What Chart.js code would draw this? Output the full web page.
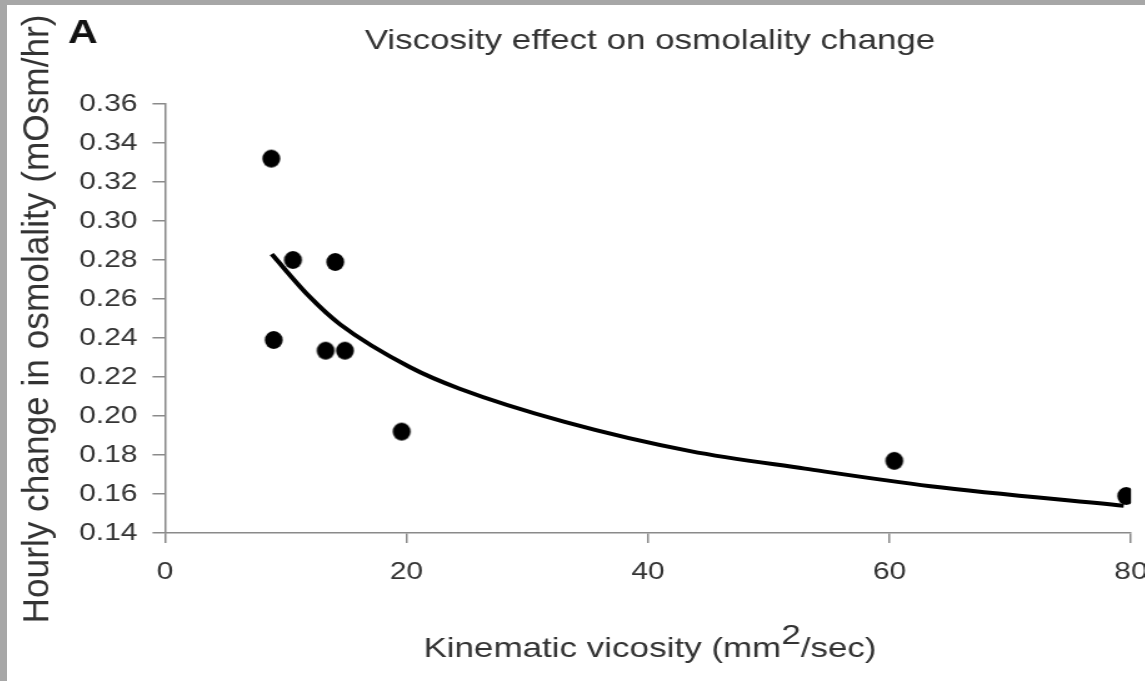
<!DOCTYPE html>
<html>
<head>
<meta charset="utf-8">
<script src="https://cdn.jsdelivr.net/npm/chart.js@4.4.0/dist/chart.umd.min.js"></script>
<style>
    html, body {
        margin: 0;
        padding: 0;
        background: #a7a7a7;
        width: 1145px;
        height: 681px;
        overflow: hidden;
    }
    #frame {
        position: absolute;
        left: 7px;
        top: 5px;
        width: 1138px;
        height: 676px;
        background: #ffffff;
        overflow: hidden;
    }
    #viscosity-chart {
        position: absolute;
        left: 0;
        top: 0;
        transform: scaleX(1.25);
        transform-origin: 0 0;
        filter: blur(0.5px);
    }
</style>
</head>
<body>
<div id="frame">
    <canvas id="viscosity-chart" width="910" height="676" style="width:910px;height:676px;"></canvas>
</div>
<script>
// measured points: kinematic viscosity (mm2/sec) vs hourly change (mOsm/hr)
const viscosity = [8.8, 9.0, 10.6, 14.1, 13.3, 14.9, 19.6, 60.4, 79.6];
const osmoChange = [0.332, 0.239, 0.280, 0.279, 0.2335, 0.2335, 0.192, 0.177, 0.159];

// trend line
const trendX = [8.84, 12.0, 14.5, 20.3, 24.4, 33.1, 43.5, 53.0, 63.4, 79.4];
const trendY = [0.283, 0.261, 0.247, 0.225, 0.214, 0.197, 0.182, 0.173, 0.164, 0.154];

const xTicks = [0, 20, 40, 60, 80];
const yTicks = [0.14, 0.16, 0.18, 0.20, 0.22, 0.24, 0.26, 0.28, 0.30, 0.32, 0.34, 0.36];

const chartTitle = 'Viscosity effect on osmolality change';
const panelLabel = 'A';
const yTitle = 'Hourly change in osmolality (mOsm/hr)';

const fontFamily = "'Liberation Sans', Arial, Helvetica, sans-serif";
const axisColor = '#8a8a8a';
const textColor = '#333333';
const stretch = 1.25;

let chart = null;

function toPoints(xs, ys) {
    let points = [];
    for (let i = 0; i < xs.length; i++) {
        points.push({x: xs[i], y: ys[i]});
    }
    return points;
}

// round dot that survives the horizontal stretch of the canvas
function makeDot(diameter) {
    const w = Math.ceil(diameter / stretch) + 2;
    const h = Math.ceil(diameter) + 2;
    const dot = document.createElement('canvas');
    dot.width = w;
    dot.height = h;
    const dctx = dot.getContext('2d');
    dctx.fillStyle = '#000000';
    dctx.beginPath();
    dctx.ellipse(w / 2, h / 2, diameter / stretch / 2, diameter / 2, 0, 0, Math.PI * 2);
    dctx.fill();
    return dot;
}

const textPlugin = {
    id: 'chartTexts',
    afterDraw(c) {
        const ctx = c.ctx;
        ctx.save();
        ctx.fillStyle = textColor;
        ctx.textBaseline = 'alphabetic';

        // title
        ctx.font = '28px ' + fontFamily;
        ctx.textAlign = 'center';
        ctx.fillText(chartTitle, 514.4, 44);

        // panel letter
        ctx.fillStyle = '#111111';
        ctx.font = 'bold 33px ' + fontFamily;
        ctx.textAlign = 'left';
        ctx.fillText(panelLabel, 48.8, 38);
        ctx.fillStyle = textColor;

        // x title with superscript
        ctx.font = '28px ' + fontFamily;
        const partA = 'Kinematic vicosity (mm';
        const partB = '2';
        const partC = '/sec)';
        const wA = ctx.measureText(partA).width;
        const wB = ctx.measureText(partB).width;
        const wC = ctx.measureText(partC).width;
        let x = 514.4 - (wA + wB + wC) / 2;
        ctx.textAlign = 'left';
        ctx.fillText(partA, x, 652);
        x += wA;
        ctx.fillText(partB, x, 639);
        x += wB;
        ctx.fillText(partC, x, 652);

        // y title, rotated
        ctx.font = '29px ' + fontFamily;
        const wY = ctx.measureText(yTitle).width;
        ctx.translate(32.8, 314);
        ctx.rotate(-Math.PI / 2);
        ctx.scale(609 / wY, 1);
        ctx.textAlign = 'center';
        ctx.fillText(yTitle, 0, 0);
        ctx.restore();
    }
};

const options = {
    type: 'scatter',
    data: {
        datasets: [
            {
                label: 'Measured',
                data: toPoints(viscosity, osmoChange),
                pointStyle: makeDot(18),
                pointRadius: 9,
                pointHoverRadius: 9,
                backgroundColor: '#000000',
                borderColor: '#000000',
                showLine: false,
                order: 2
            },
            {
                label: 'Trend',
                data: toPoints(trendX, trendY),
                showLine: true,
                pointRadius: 0,
                borderColor: '#000000',
                borderWidth: 4,
                cubicInterpolationMode: 'monotone',
                fill: false,
                order: 1
            }
        ]
    },
    options: {
        responsive: false,
        animation: false,
        devicePixelRatio: 1,
        layout: {
            padding: {top: 99, right: 10.8, left: 0, bottom: 0}
        },
        plugins: {
            legend: {display: false},
            tooltip: {enabled: false},
            title: {display: false}
        },
        scales: {
            x: {
                type: 'linear',
                min: xTicks[0],
                max: xTicks[xTicks.length - 1],
                afterBuildTicks: function (scale) {
                    scale.ticks = xTicks.map((v) => ({value: v}));
                },
                afterFit: function (scale) {
                    scale.height = 148;
                    scale.paddingLeft = 0;
                    scale.paddingRight = 0;
                },
                border: {display: true, color: axisColor, width: 1.5},
                grid: {
                    drawOnChartArea: false,
                    drawTicks: true,
                    tickLength: 10,
                    color: axisColor,
                    lineWidth: 1.5
                },
                ticks: {
                    color: textColor,
                    font: {family: fontFamily, size: 24},
                    padding: 15,
                    maxRotation: 0,
                    callback: function (value) {
                        return String(value);
                    }
                }
            },
            y: {
                type: 'linear',
                min: yTicks[0],
                max: yTicks[yTicks.length - 1],
                afterBuildTicks: function (scale) {
                    scale.ticks = yTicks.map((v) => ({value: v}));
                },
                afterFit: function (scale) {
                    scale.width = 126.4;
                    scale.paddingTop = 0;
                    scale.paddingBottom = 0;
                },
                border: {display: true, color: axisColor, width: 1.5},
                grid: {
                    drawOnChartArea: false,
                    drawTicks: true,
                    tickLength: 10,
                    color: axisColor,
                    lineWidth: 1.5
                },
                ticks: {
                    color: textColor,
                    font: {family: fontFamily, size: 24},
                    padding: 12,
                    callback: function (value) {
                        return Number(value).toFixed(2);
                    }
                }
            }
        }
    },
    plugins: [textPlugin]
};

chart = new Chart(document.querySelector('#viscosity-chart'), options);
</script>
</body>
</html>
